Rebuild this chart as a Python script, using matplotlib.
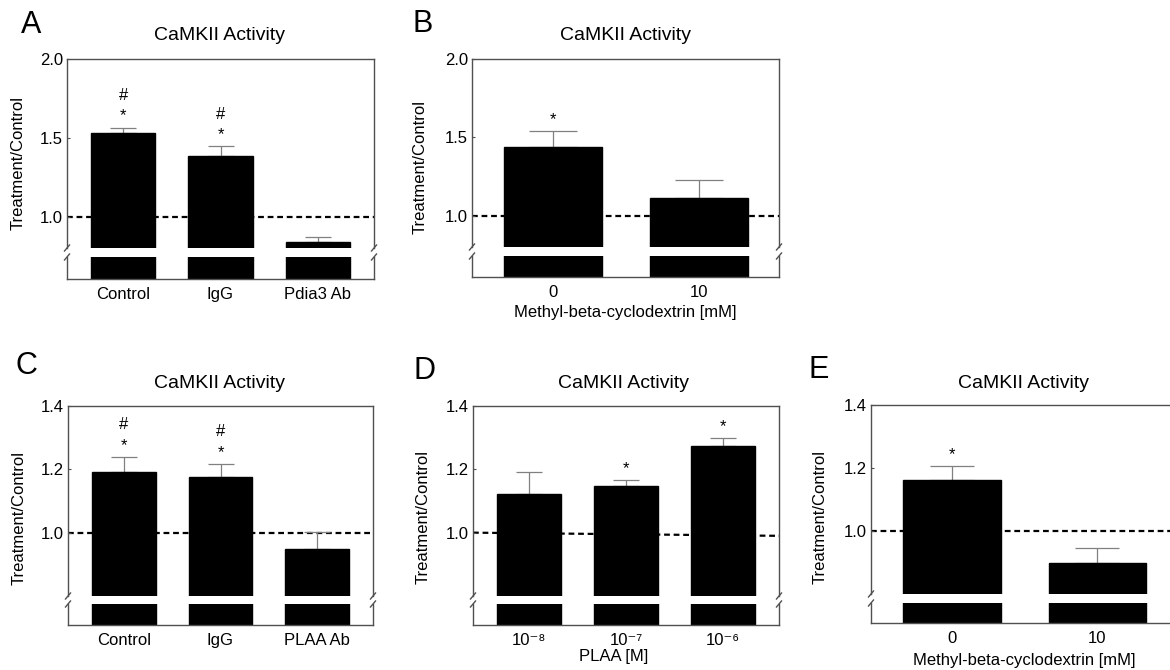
import matplotlib
matplotlib.use("Agg")
import matplotlib.pyplot as plt
import numpy as np
from matplotlib.lines import Line2D

plt.rcParams['font.family'] = ['Liberation Sans', 'DejaVu Sans']
plt.rcParams['mathtext.default'] = 'regular'

# ---- data ----
a_labels = ["Control", "IgG", "Pdia3 Ab"]
a_vals = [1.53, 1.385, 0.84]
a_err = [0.035, 0.06, 0.027]
a_sig = ["*#", "*#", ""]

b_labels = ["0", "10"]
b_vals = [1.44, 1.11]
b_err = [0.10, 0.115]
b_sig = ["*", ""]

c_labels = ["Control", "IgG", "PLAA Ab"]
c_vals = [1.193, 1.175, 0.95]
c_err = [0.046, 0.043, 0.051]
c_sig = ["*#", "*#", ""]

d_labels = ["10⁻⁸", "10⁻⁷", "10⁻⁶"]
d_vals = [1.122, 1.146, 1.273]
d_err = [0.068, 0.020, 0.025]
d_sig = ["", "*", "*"]

e_labels = ["0", "10"]
e_vals = [1.162, 0.897]
e_err = [0.045, 0.05]
e_sig = ["*", ""]

ab_yticks = [1.0, 1.5, 2.0]
cde_yticks = [1.0, 1.2, 1.4]
title = "CaMKII Activity"
ylab = "Treatment/Control"
mbcd = "Methyl-beta-cyclodextrin [mM]"

W, H = 1170, 670
SPINE = "#505050"
ERR = "#808080"

def fx(x):
    return x / W

def fy(y):
    return 1 - y / H

fig = plt.figure(figsize=(W / 100, H / 100), dpi=100)

# letter, labels, vals, err, sig, yticks, ymax, ref line (start,end),
# box px (left,right,top,gap_top,gap_bot,bottom), xlim, bar width, capsize,
# letter pos, ylabel pos, title pos, xlabel (text, x, y)
panels = [
    ("A", a_labels, a_vals, a_err, a_sig, ab_yticks, 2.0, (1.0, 1.0),
     (67, 374, 59, 248, 257, 279), (-0.58, 2.58), 0.66, 9.7,
     (31, 25), (18, 163), (220, 36), None),
    ("B", b_labels, b_vals, b_err, b_sig, ab_yticks, 2.0, (1.0, 1.0),
     (472, 779, 59, 247, 256, 277), (-0.555, 1.548), 0.67, 17,
     (423, 24), (420, 167), (625, 36), (mbcd, 625, 313)),
    ("C", c_labels, c_vals, c_err, c_sig, cde_yticks, 1.4, (1.0, 1.0),
     (68, 373, 406, 596, 604, 625), (-0.58, 2.58), 0.66, 9.7,
     (26, 366), (19, 518), (220, 383), None),
    ("D", d_labels, d_vals, d_err, d_sig, cde_yticks, 1.4, (1.0, 0.99),
     (473, 779, 406, 596, 604, 625), (-0.577, 2.577), 0.66, 9.7,
     (424, 371), (423, 517), (623, 383), ("PLAA [M]", 614, 656)),
    ("E", e_labels, e_vals, e_err, e_sig, cde_yticks, 1.4, (1.0, 1.0),
     (871, 1177, 405, 594, 603, 623), (-0.555, 1.548), 0.67, 16,
     (819, 370), (820, 517), (1024, 383), (mbcd, 1024, 660)),
]

for (let, labels, vals, errs, sig, yticks, ymax, ref, box, xlim, bw, cap,
     lpos, ypos, tpos, xlab) in panels:
    left, right, top, gt, gb, bottom = box
    x = np.arange(len(labels))
    vals = np.array(vals)
    errs = np.array(errs)

    ax_hi = fig.add_axes([fx(left), fy(gt), (right - left) / W, (gt - top) / H])
    ax_lo = fig.add_axes([fx(left), fy(bottom), (right - left) / W, (bottom - gb) / H])

    # upper part
    ax_hi.bar(x, vals, bw, color="black", edgecolor="black", zorder=3)
    ax_hi.errorbar(x, vals, yerr=[np.zeros_like(errs), errs], fmt="none",
                   ecolor=ERR, elinewidth=0.9, capsize=cap, capthick=0.9, zorder=2)
    ax_hi.plot(list(xlim), list(ref), color="black", lw=1.6,
               ls=(0, (2.6, 1.7)), zorder=1)
    for i, s in enumerate(sig):
        top_v = vals[i] + errs[i]
        if "*" in s:
            ax_hi.annotate("*", (x[i], top_v), xytext=(0, 5), textcoords="offset points",
                           ha="center", va="baseline", fontsize=12)
        if "#" in s:
            ax_hi.annotate("#", (x[i], top_v), xytext=(0, 20), textcoords="offset points",
                           ha="center", va="baseline", fontsize=12)
    ax_hi.set_xlim(xlim)
    ax_hi.set_ylim(0.8, ymax)
    ax_hi.set_yticks(yticks)
    ax_hi.set_yticklabels(["%.1f" % t for t in yticks])
    ax_hi.set_xticks([])
    ax_hi.spines["bottom"].set_visible(False)
    ax_hi.tick_params(axis="y", direction="in", length=2.5, width=0.8,
                      color=SPINE, labelsize=12, pad=3)

    # lower stub
    ax_lo.bar(x, vals, bw, color="black", edgecolor="black")
    ax_lo.set_xlim(xlim)
    ax_lo.set_ylim(0, 0.07)
    ax_lo.set_yticks([])
    ax_lo.set_xticks(x)
    ax_lo.set_xticklabels(labels)
    ax_lo.tick_params(axis="x", length=0, labelsize=12, pad=6)
    ax_lo.spines["top"].set_visible(False)

    for ax in (ax_hi, ax_lo):
        ax.patch.set_alpha(0)
        for sp in ax.spines.values():
            sp.set_color(SPINE)
            sp.set_linewidth(1.0)

    # break marks on the side spines
    for sx in (left, right):
        for yy in (gt, gb):
            fig.add_artist(Line2D([fx(sx - 2.5), fx(sx + 2.5)], [fy(yy + 3), fy(yy - 3)],
                                  transform=fig.transFigure, color=SPINE, lw=1.0))

    fig.text(fx(lpos[0]), fy(lpos[1]), let, fontsize=22, ha="center", va="center")
    fig.text(fx(tpos[0]), fy(tpos[1]), title, fontsize=14, ha="center", va="center")
    fig.text(fx(ypos[0]), fy(ypos[1]), ylab, fontsize=12, rotation=90,
             ha="center", va="center")
    if xlab is not None:
        fig.text(fx(xlab[1]), fy(xlab[2]), xlab[0], fontsize=12, ha="center", va="center")

fig.savefig("out.png", dpi=100)
